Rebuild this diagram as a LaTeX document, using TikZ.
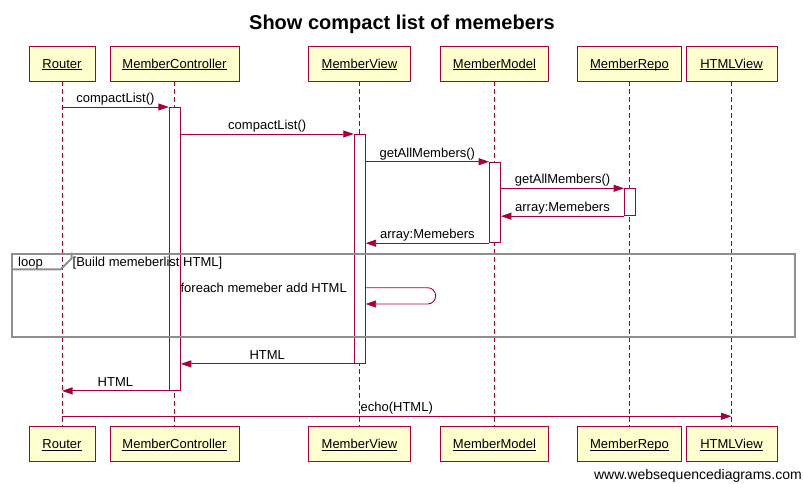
\documentclass[tikz,border=0pt]{standalone}
\usepackage{fontspec}
\setmainfont{Liberation Sans}
\usetikzlibrary{arrows.meta,positioning}
\definecolor{wsd}{HTML}{A80036}
\definecolor{wsdfill}{HTML}{FEFECE}
\definecolor{loopgray}{HTML}{8E8E8E}
\begin{document}
\begin{tikzpicture}[x=1pt,y=-1pt,inner sep=0pt]
  \fontsize{13}{15}\selectfont
  \useasboundingbox(0,0)rectangle(804,484);
  \tikzstyle{part}=[rectangle,draw=wsd,fill=wsdfill,line width=0.9pt,minimum height=35pt,text height=9.4pt,text depth=0pt]
  \tikzstyle{act}=[rectangle,draw=wsd,fill=white,line width=0.9pt,minimum width=11pt,anchor=north]
  \tikzstyle{life}=[draw=wsd,line width=0.9pt,dash pattern=on 5pt off 3pt]
  \tikzstyle{e}=[-{Triangle[length=10.5pt,width=7pt]},draw=wsd,line width=0.9pt]
  \tikzstyle{lab}=[anchor=base,yshift=4.5pt]
  \node[anchor=base,font=\fontsize{20}{24}\selectfont\bfseries](title)at(402,30){Show compact list of memebers};
  \foreach\n/\x/\w/\s in{R/62/66/Router,C/174.5/129/MemberController,V/359.5/102/MemberView,M/494.5/108/MemberModel,P/629.5/104/MemberRepo,H/731.5/91/HTMLView}{
    \node[part,minimum width=\w pt](top\n)at(\x,63.5){\underline{\smash{\s}}};
    \node[part,minimum width=\w pt](bot\n)at(\x,443.8){\underline{\smash{\s}}};
    \draw[life](top\n)--(bot\n);}
  % activations
  \node[act,minimum height=283pt](actC)at(174.8,107){};
  \node[act,minimum height=229pt](actV)at(359.7,134){};
  \node[act,minimum height=80.6pt](actM)at(495,161.7){};
  \node[act,minimum height=27pt](actP)at(630,188.3){};
  % loop frame
  \node[draw=loopgray,line width=2pt,minimum width=783pt,minimum height=83pt,anchor=north west](loop)at(11.3,252.7){};
  \draw[loopgray,line width=2pt](loop.north west)++(0,16.6)--++(49.4,0)--++(11,-11)--++(0,-5.6);
  \node[anchor=base west](looptxt)at(18,266){loop};
  \node[anchor=base west](guard)at(72.5,266){[Build memeberlist HTML]};
  % messages
  \draw[e](topR|-actC.north)--node[lab]{compactList()}(actC.north west);
  \draw[e](actC.north east|-actV.north)--node[lab]{compactList()}(actV.north west);
  \draw[e](actV.north east|-actM.north)--node[lab]{getAllMembers()}(actM.north west);
  \draw[e](actM.north east|-actP.north)--node[lab]{getAllMembers()}(actP.north west);
  \draw[e](actP.south west)--node[lab]{array:Memebers}(actM.north east|-actP.south);
  \draw[e](actM.south west)--node[lab]{array:Memebers}(actV.north east|-actM.south);
  \coordinate(selfV)at(actV.north east|-0,287.7);
  \draw[e,rounded corners=8pt](selfV)--++(70,0)--++(0,16.3)--++(-70,0);
  \node[anchor=base east](each)at(347,292.3){foreach memeber add HTML};
  \draw[e](actV.south west)--node[lab]{HTML}(actC.north east|-actV.south);
  \draw[e](actC.south west)--node[lab]{HTML}(topR|-actC.south);
  \coordinate(echo)at(0,416.3);
  \draw[e](topR|-echo)--node[lab]{echo(HTML)}(topH|-echo);
  \node[anchor=base east,font=\fontsize{14}{16}\selectfont](wsdurl)at(802,479.5){www.websequencediagrams.com};
\end{tikzpicture}
\end{document}
